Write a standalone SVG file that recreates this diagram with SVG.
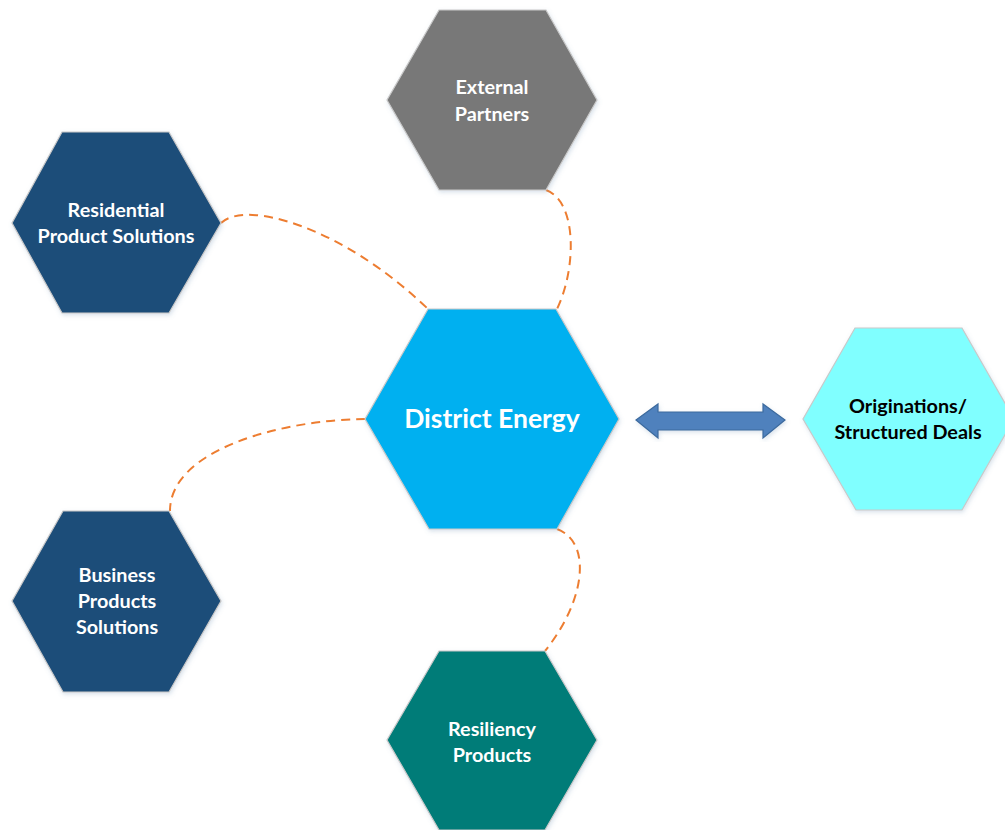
<svg xmlns="http://www.w3.org/2000/svg" width="1005" height="830" viewBox="0 0 1005 830">
<style>
.hex{stroke:#c9c9c9;stroke-width:1.2}
.lbl{font-family:Lato,"Liberation Sans",sans-serif;font-weight:bold;font-size:19.8px;text-anchor:middle;fill:#ffffff}
.dark{fill:#000000}
.big{font-size:26.5px}
.conn{fill:none;stroke:#ED7D31;stroke-width:2;stroke-dasharray:9 6}
</style>
<defs>
<filter id="sh" x="-10%" y="-10%" width="120%" height="120%">
<feDropShadow dx="1" dy="2" stdDeviation="2" flood-color="#6a8bb0" flood-opacity="0.25"/>
</filter>
</defs>
<rect width="1005" height="830" fill="#ffffff"/>
<g id="connectors">
<path class="conn" d="M221,223 C245,200 340,225 427,308"/>
<path class="conn" d="M546,190 C578,202 576,270 557,309"/>
<path class="conn" d="M365,419 C280,420 170,450 170,511"/>
<path class="conn" d="M557,529 C592,542 586,600 545,651"/>
<path id="arrow" d="M636,420 L658,404 L658,412 L763,412 L763,404 L785,420 L763,438 L763,430 L658,430 L658,438 Z" fill="#4F81BD" stroke="#3C6A9E" stroke-width="1.2" filter="url(#sh)"/>
</g>
<g id="external-partners">
<polygon class="hex" filter="url(#sh)" points="439,10 546,10 597,100 546,190 439,190 387,100" fill="#787878"/>
<text class="lbl" x="492" y="94">External</text>
<text class="lbl" x="492" y="121">Partners</text>
</g>
<g id="residential">
<polygon class="hex" filter="url(#sh)" points="62,132 169,132 221,223 169,313 62,313 12,223" fill="#1F4E79"/>
<text class="lbl" x="116" y="217">Residential</text>
<text class="lbl" x="116" y="243">Product Solutions</text>
</g>
<g id="district-energy">
<polygon class="hex" filter="url(#sh)" points="428,309 556,309 619,419 557,529 429,529 365,419" fill="#00B0F0"/>
<text class="lbl big" x="492" y="428">District Energy</text>
</g>
<g id="originations">
<polygon class="hex" filter="url(#sh)" points="855,328 962,328 1014,419 962,510 856,510 803,419" fill="#80FFFF"/>
<text class="lbl dark" x="908" y="413">Originations/</text>
<text class="lbl dark" x="908" y="439">Structured Deals</text>
</g>
<g id="business">
<polygon class="hex" filter="url(#sh)" points="63,511 169,511 221,601 169,692 63,692 12,601" fill="#1F4E79"/>
<text class="lbl" x="117" y="582">Business</text>
<text class="lbl" x="117" y="608">Products</text>
<text class="lbl" x="117" y="634">Solutions</text>
</g>
<g id="resiliency">
<polygon class="hex" filter="url(#sh)" points="439,651 545,651 597,740 545,830 439,830 387,740" fill="#007B78"/>
<text class="lbl" x="492" y="736">Resiliency</text>
<text class="lbl" x="492" y="762">Products</text>
</g>
</svg>
